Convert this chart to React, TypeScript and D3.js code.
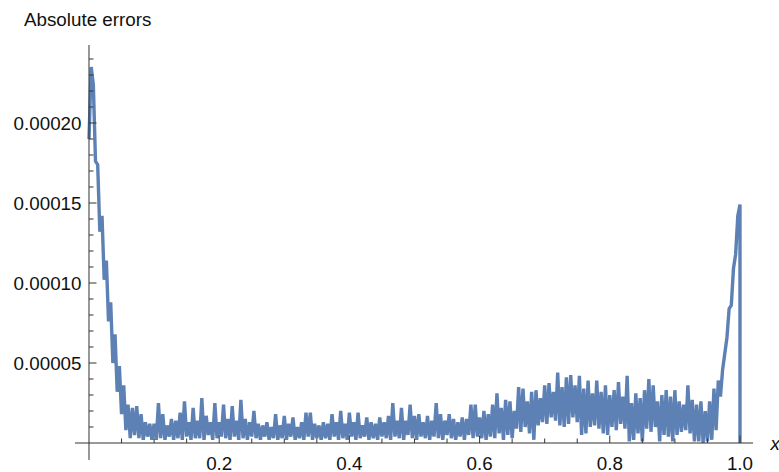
import React from "react";
import * as d3 from "d3";

// Absolute error samples, units of 1e-5, at x = i / 300 (i = 0..300)
const ERR_A = [
  19.0, 23.5, 22.4, 17.6, 17.4, 13.2, 14.2, 10.2, 11.4, 7.6,
  8.8, 5.0, 6.8, 3.2, 4.8, 1.8, 3.6, 0.8, 2.4,
];
const ERR_B = [
  0.3, 2.2, 0.5, 2.3, 0.3, 1.8, 0.2, 1.3, 0.4, 1.2,
  0.2, 1.2, 0.2, 2.5, 0.3, 1.8, 0.2, 1.1, 0.4, 1.5,
  0.2, 1.4, 0.3, 1.9, 0.2, 2.6, 0.4, 1.3, 0.2, 2.2,
  0.3, 1.4, 0.3, 2.8, 0.2, 1.7, 0.5, 1.3, 0.2, 2.5,
  0.3, 1.3, 0.4, 2.4, 0.3, 1.5, 0.2, 2.3, 0.4, 1.4,
  0.2, 2.7, 0.3, 1.5, 0.2, 1.3, 0.4, 2.0, 0.3, 1.2,
  0.2, 1.1, 0.4, 1.3, 0.2, 1.0, 0.3, 1.8, 0.2, 1.1,
  0.3, 1.7, 0.2, 1.2, 0.4, 1.6, 0.2, 1.0, 0.3, 1.3,
  0.2, 1.9, 0.4, 1.9, 0.2, 1.2, 0.3, 1.1, 0.2, 1.3,
  0.3, 1.2, 0.2, 1.8, 0.4, 1.3, 0.2, 2.0, 0.3, 1.2,
  0.2, 1.9, 0.4, 1.3, 0.2, 1.9, 0.3, 1.1, 0.4, 1.6,
  0.2, 1.3, 0.3, 1.2, 0.2, 1.6, 0.4, 1.3, 0.3, 1.7,
  0.2, 2.5, 0.4, 1.4, 0.3, 2.2, 0.2, 1.4, 0.5, 2.4,
  0.3, 1.7, 0.2, 1.8, 0.4, 1.3, 0.3, 1.7, 0.2, 1.4,
  0.4, 2.5, 0.3, 1.8, 0.2, 1.4, 0.5, 1.8, 0.3, 1.5,
  0.2, 1.3, 0.4, 1.6, 0.2, 1.5, 0.5, 2.4, 0.3, 2.4,
  0.4, 1.6,
];
const ERR_C = [
  0.3, 2.0, 0.2, 1.8, 0.4, 2.4, 0.3, 3.1, 0.6, 2.2,
  0.2, 2.7, 0.5, 2.6, 0.3, 2.0, 0.9, 3.5, 0.7, 3.4,
  1.0, 2.6, 0.6, 3.2, 0.2, 3.3, 1.1, 2.8, 1.3, 3.6,
  1.2, 3.75, 1.6, 3.2, 1.4, 4.4, 1.1, 3.5, 1.0, 4.1,
  1.2, 4.25, 1.6, 3.6, 1.3, 4.2, 0.5, 3.4, 0.6, 3.9,
  1.0, 3.1, 1.1, 3.9, 0.9, 3.2, 0.6, 3.6, 0.5, 3.0,
];
const ERR_D = [
  1.0, 3.3, 0.8, 3.8, 1.2, 2.9, 0.9, 4.2, 0.1, 2.5,
  0.2, 3.1, 0.6, 2.8, 0.1, 3.3, 0.9, 4.0, 0.7, 3.6,
  1.0, 2.6, 0.1, 3.0, 0.5, 3.3, 0.4, 2.9, 0.1, 3.3,
  0.5, 2.6, 0.7, 2.4, 0.8, 3.6, 0.6, 2.7, 0.1, 2.4,
  0.1, 2.6, 0.0, 2.0, 0.1, 2.6, 0.2,
];
const ERR_E = [
  3.4, 0.8, 3.9, 2.9, 4.6, 5.6, 6.6, 8.4, 8.6, 10.9,
  11.8, 14.2, 14.9,
];
const ERR_UNIT = 1e-5;
const SAMPLE_STEP = 1 / 300;
const FINAL_POINT: [number, number] = [1.0, 0];

const Y_MAJOR = [0.00005, 0.0001, 0.00015, 0.0002];
const Y_LABELS = ["0.00005", "0.00010", "0.00015", "0.00020"];
const Y_MINOR_UNITS = [1, 2, 3, 4, 6, 7, 8, 9, 11, 12, 13, 14, 16, 17, 18, 19, 21, 22, 23, 24];
const X_MAJOR = [0.2, 0.4, 0.6, 0.8, 1.0];
const X_LABELS = ["0.2", "0.4", "0.6", "0.8", "1.0"];
const X_MINOR = [0.05, 0.1, 0.15, 0.25, 0.3, 0.35, 0.45, 0.5, 0.55, 0.65, 0.7, 0.75, 0.85, 0.9, 0.95];

const W = 779;
const H = 472;
const FONT = "'Liberation Sans', Arial, Helvetica, sans-serif";
const FS = 18.8;
const AXIS = "#333";
const LINE = "#5E81B5";

export default function App() {
  const x = d3.scaleLinear().domain([-0.0215, 1.02]).range([75, 753]);
  const y = d3.scaleLinear().domain([-1.0625e-5, 2.4875e-4]).range([460, 45]);

  const vals = [...ERR_A, ...ERR_B, ...ERR_C, ...ERR_D, ...ERR_E];
  const pts: [number, number][] = vals.map((v, i) => [i * SAMPLE_STEP, v * ERR_UNIT]);
  pts.push(FINAL_POINT);

  const line = d3
    .line<[number, number]>()
    .x((d) => x(d[0]))
    .y((d) => y(d[1]));

  const x0 = x(0);
  const y0 = y(0);

  return (
    <svg
      width={W}
      height={H}
      style={{ position: "absolute", left: 0, top: 0, background: "#fff" }}
      fontFamily={FONT}
    >
      <rect width={W} height={H} fill="#fff" />
      <path
        d={line(pts) || ""}
        fill="none"
        stroke={LINE}
        strokeWidth={3.4}
        strokeLinejoin="bevel"
      />
      {/* axes */}
      <line x1={x(-0.0215)} x2={x(1.02)} y1={y0} y2={y0} stroke={AXIS} strokeWidth={1} />
      <line x1={x0} x2={x0} y1={y(-1.0625e-5)} y2={y(2.4875e-4)} stroke={AXIS} strokeWidth={1} />
      {/* y ticks */}
      {Y_MINOR_UNITS.map((u) => (
        <line key={"ym" + u} x1={x0} x2={x0 + 4.5} y1={y(u * ERR_UNIT)} y2={y(u * ERR_UNIT)} stroke={AXIS} strokeWidth={1} />
      ))}
      {Y_MAJOR.map((v, i) => (
        <g key={"yM" + i}>
          <line x1={x0} x2={x0 + 7.5} y1={y(v)} y2={y(v)} stroke={AXIS} strokeWidth={1} />
          <text x={x0 - 7.5} y={y(v) + 7} textAnchor="end" fontSize={FS} fill="#111">
            {Y_LABELS[i]}
          </text>
        </g>
      ))}
      {/* x ticks */}
      {X_MINOR.map((v) => (
        <line key={"xm" + v} x1={x(v)} x2={x(v)} y1={y0} y2={y0 - 4.5} stroke={AXIS} strokeWidth={1} />
      ))}
      {X_MAJOR.map((v, i) => (
        <g key={"xM" + i}>
          <line x1={x(v)} x2={x(v)} y1={y0} y2={y0 - 7.5} stroke={AXIS} strokeWidth={1} />
          <text x={x(v)} y={y0 + 26.5} textAnchor="middle" fontSize={FS} fill="#111">
            {X_LABELS[i]}
          </text>
        </g>
      ))}
      <text x={770.5} y={450} fontSize={FS} fontStyle="italic" fill="#111">
        x
      </text>
      <text x={24} y={26} fontSize={FS} fill="#111">
        Absolute errors
      </text>
    </svg>
  );
}
